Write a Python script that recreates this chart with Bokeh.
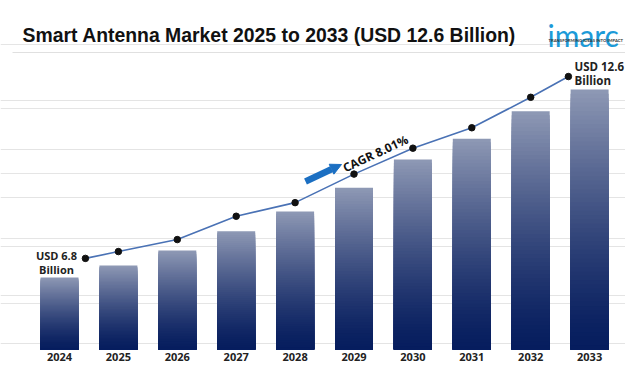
from bokeh.plotting import figure
from bokeh.models import Range1d, FixedTicker, Grid, Label, Arrow, NormalHead
from bokeh.embed import file_html
from bokeh.resources import INLINE

# ---------------- data ----------------
years = ["2024", "2025", "2026", "2027", "2028", "2029", "2030", "2031", "2032", "2033"]
market_values = [6.8, 7.17, 7.63, 8.23, 8.84, 9.57, 10.44, 11.08, 11.93, 12.6]
trend_values = [7.39, 7.60, 7.97, 8.69, 9.11, 9.99, 10.79, 11.42, 12.36, 13.00]
grid_values = [4.76, 6.26, 7.76, 9.26, 10.76, 12.26]
start_label = ["USD 6.8", "Billion"]
end_label = ["USD 12.6", "Billion"]
cagr_label = "CAGR 8.01%"
title_text = "Smart Antenna Market 2025 to 2033 (USD 12.6 Billion)"
logo_text = "imarc"
logo_tagline = "TRANSFORMING IDEAS INTO IMPACT"

# ---------------- layout helpers ----------------
W, H = 625, 375
BASE_PX = 349                      # pixel row of the bar baseline
BOTTOM_BORDER = H - BASE_PX
BASE = 4.579
PX_PER_X = 58.9
VAL_PER_PX = 0.030851
X0 = -59 / PX_PER_X
X1 = X0 + W / PX_PER_X
Y1 = BASE + BASE_PX * VAL_PER_PX


def xd(px):  # picture pixel x -> data x
    return X0 + px / PX_PER_X


def yd(py):  # picture pixel y -> data y
    return Y1 - py * VAL_PER_PX


p = figure(width=W, height=H, output_backend="svg", toolbar_location=None,
           x_range=Range1d(X0, X1), y_range=Range1d(BASE, Y1),
           y_axis_location=None, x_axis_location="below",
           min_border_left=0, min_border_right=0, min_border_top=0,
           min_border_bottom=BOTTOM_BORDER)
p.outline_line_color = None
p.background_fill_color = "white"
p.border_fill_color = "white"
p.xgrid.visible = False

# x axis with year labels
idx = list(range(len(years)))
p.xaxis.ticker = FixedTicker(ticks=idx)
p.xaxis.major_label_overrides = {i: y for i, y in zip(idx, years)}
p.xaxis.axis_line_color = None
p.xaxis.major_tick_line_color = None
p.xaxis.minor_tick_line_color = None
p.xaxis.major_tick_out = 0
p.xaxis.major_tick_in = 0
p.xaxis.major_label_standoff = 3
p.xaxis.major_label_text_font = "Open Sans"
p.xaxis.major_label_text_font_style = "bold"
p.xaxis.major_label_text_font_size = "11px"
p.xaxis.major_label_text_color = "#222222"

# horizontal grid lines
p.add_layout(Grid(dimension=1, ticker=FixedTicker(ticks=grid_values),
                  grid_line_color="#E4E4E4", grid_line_width=1))

# ---------------- gradient bars ----------------
top_rgb = (143, 153, 181)
bot_rgb = (6, 29, 94)
N = 60
bw = 0.645
L, R, B, T, C = [], [], [], [], []
for i, v in enumerate(market_values):
    for k in range(N, 0, -1):
        t = (k - 0.5) / N
        tt = t ** 1.35
        rgb = tuple(int(round(b + (a - b) * tt)) for a, b in zip(top_rgb, bot_rgb))
        L.append(i - bw / 2)
        R.append(i + bw / 2)
        B.append(BASE)
        T.append(BASE + (v - BASE) * k / N)
        C.append("#%02x%02x%02x" % rgb)
p.quad(left=L, right=R, bottom=B, top=T, fill_color=C, line_color=None)

# ---------------- trend line ----------------
trend_x = [float(i) for i in idx]
trend_x[0] += 0.44
trend_x[-1] -= 0.36
p.line(trend_x, trend_values, line_color="#4A72B5", line_width=1.6)
p.scatter(trend_x, trend_values, size=6.5, fill_color="#111111", line_color="#111111")

# ---------------- arrow + CAGR ----------------
p.add_layout(Arrow(x_start=xd(305), y_start=yd(181), x_end=xd(341), y_end=yd(164),
                   line_color="#1B6FC2", line_width=6.5,
                   end=NormalHead(size=11, fill_color="#1B6FC2", line_color="#1B6FC2")))
p.add_layout(Label(x=xd(343), y=yd(168), text=cagr_label, angle=0.44,
                   text_font="Open Sans", text_font_style="bold", text_font_size="12px",
                   text_color="#111111", text_baseline="alphabetic", text_align="left"))

# ---------------- value labels ----------------
for txt, py in zip(start_label, [255, 269]):
    p.add_layout(Label(x=xd(56), y=yd(py), text=txt, text_font="Open Sans",
                       text_font_style="bold", text_font_size="11px", text_color="#222222",
                       text_align="center", text_baseline="middle"))
for txt, py in zip(end_label, [66, 80]):
    p.add_layout(Label(x=xd(574), y=yd(py), text=txt, text_font="Open Sans",
                       text_font_style="bold", text_font_size="11.5px", text_color="#222222",
                       text_align="left", text_baseline="middle"))

# ---------------- title, separator, logo ----------------
p.add_layout(Label(x=xd(22), y=yd(34), text=title_text, text_font="Liberation Sans",
                   text_font_style="bold", text_font_size="19.4px", text_color="#111111",
                   text_align="left", text_baseline="middle"))
p.segment(x0=[xd(12)], y0=[yd(52)], x1=[xd(625)], y1=[yd(52)], line_color="#E0E0E0", line_width=1)
p.add_layout(Label(x=xd(547), y=yd(34), text=logo_text, text_font="Lato",
                   text_font_size="30px", text_color="#1C9AD8",
                   text_align="left", text_baseline="alphabetic"))
p.add_layout(Label(x=xd(548), y=yd(40), text=logo_tagline, text_font="Lato",
                   text_font_style="bold", text_font_size="4.2px", text_color="#333333",
                   text_align="left", text_baseline="middle"))

open("out.html", "w").write(file_html(p, INLINE))
